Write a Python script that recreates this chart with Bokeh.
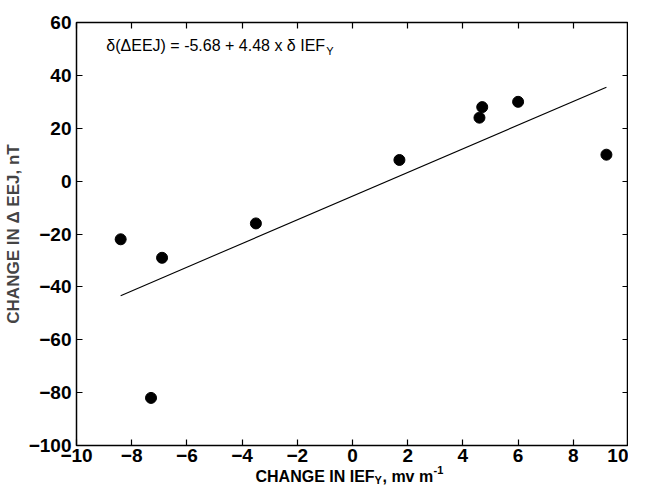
from bokeh.plotting import figure
from bokeh.layouts import column
from bokeh.models import LinearAxis, Label, Range1d, FixedTicker
from bokeh.embed import file_html
from bokeh.resources import INLINE

# data
x_change = [-8.4, -7.3, -6.9, -3.5, 1.7, 4.6, 4.7, 6.0, 9.2]
y_change = [-22, -82, -29, -16, 8, 24, 28, 30, 10]
fit_intercept = -5.68
fit_slope = 4.48
x_ticks = [-10, -8, -6, -4, -2, 0, 2, 4, 6, 8, 10]
y_ticks = [-100, -80, -60, -40, -20, 0, 20, 40, 60]

TICK_FONT = "Liberation Sans"

p = figure(frame_width=552, frame_height=423, output_backend="svg",
           toolbar_location=None,
           x_range=Range1d(-10, 10), y_range=Range1d(-100, 60),
           min_border_left=69, min_border_right=0, min_border_top=22,
           min_border_bottom=0, background_fill_color="white",
           border_fill_color="white")
p.grid.visible = False
p.outline_line_color = "black"
p.outline_line_width = 1.5


def style_axis(ax, ticks, show_labels):
    ax.ticker = FixedTicker(ticks=ticks)
    ax.axis_line_color = None
    ax.major_tick_in = 6
    ax.major_tick_out = 0
    ax.major_tick_line_color = "black"
    ax.major_tick_line_width = 1.2
    ax.minor_tick_line_color = None
    if show_labels:
        ax.major_label_text_font = TICK_FONT
        ax.major_label_text_font_style = "bold"
        ax.major_label_text_font_size = "19px"
        ax.major_label_text_color = "black"
    else:
        ax.major_label_text_color = None
        ax.major_label_text_font_size = "1px"
        ax.major_label_standoff = 0
        ax.axis_label_standoff = 0


style_axis(p.xaxis[0], x_ticks, True)
style_axis(p.yaxis[0], y_ticks, True)
p.xaxis[0].major_label_standoff = 3
p.yaxis[0].major_label_standoff = 5

p.yaxis[0].axis_label = "CHANGE IN \u0394 EEJ, nT"
p.yaxis[0].axis_label_text_font = TICK_FONT
p.yaxis[0].axis_label_text_font_style = "bold"
p.yaxis[0].axis_label_text_font_size = "17px"
p.yaxis[0].axis_label_standoff = 3

top_ax = LinearAxis()
right_ax = LinearAxis()
style_axis(top_ax, x_ticks, False)
style_axis(right_ax, y_ticks, False)
p.add_layout(top_ax, "above")
p.add_layout(right_ax, "right")

# regression line across the range of the data
xs_fit = [min(x_change), max(x_change)]
ys_fit = [fit_intercept + fit_slope * v for v in xs_fit]
p.line(xs_fit, ys_fit, line_color="black", line_width=1.1)

p.scatter(x_change, y_change, size=11, marker="circle",
          fill_color="black", line_color="black")

# equation text
EQ_FONT = "Liberation Sans"
eq = Label(x=-8.92, y=51.3, text="\u03b4(\u0394EEJ) = -5.68 + 4.48 x \u03b4 IEF",
           text_font=EQ_FONT, text_font_size="16px", text_baseline="middle",
           text_align="left", text_color="black")
eq_sub = Label(x=-8.92, y=51.3, x_offset=220, y_offset=-5, text="Y",
               text_font=EQ_FONT, text_font_size="11px", text_baseline="middle",
               text_align="left", text_color="black")
p.add_layout(eq)
p.add_layout(eq_sub)

# x-axis title (with subscript and superscript) in a strip below the plot
xt = figure(width=628, height=22, output_backend="svg", toolbar_location=None,
            x_axis_location=None, y_axis_location=None,
            x_range=Range1d(0, 1), y_range=Range1d(0, 1),
            min_border_left=69, min_border_right=0, min_border_top=0,
            min_border_bottom=0, background_fill_color="white",
            border_fill_color="white")
xt.grid.visible = False
xt.outline_line_color = None

XL_FONT = "Liberation Sans"
xl_parts = [
    ("CHANGE IN IEF", 179, 10, "16px"),
    ("Y", 298, 7, "11px"),
    (", mv m", 306, 10, "16px"),
    ("-1", 357, 17, "11px"),
]
for txt, dx, dy, fs in xl_parts:
    xt.add_layout(Label(x=dx, y=dy, x_units="screen", y_units="screen", text=txt,
                        text_font=XL_FONT, text_font_style="bold",
                        text_font_size=fs, text_baseline="alphabetic",
                        text_align="left", text_color="black"))

page = column(p, xt, spacing=0)
open("out.html", "w").write(file_html(page, INLINE))
